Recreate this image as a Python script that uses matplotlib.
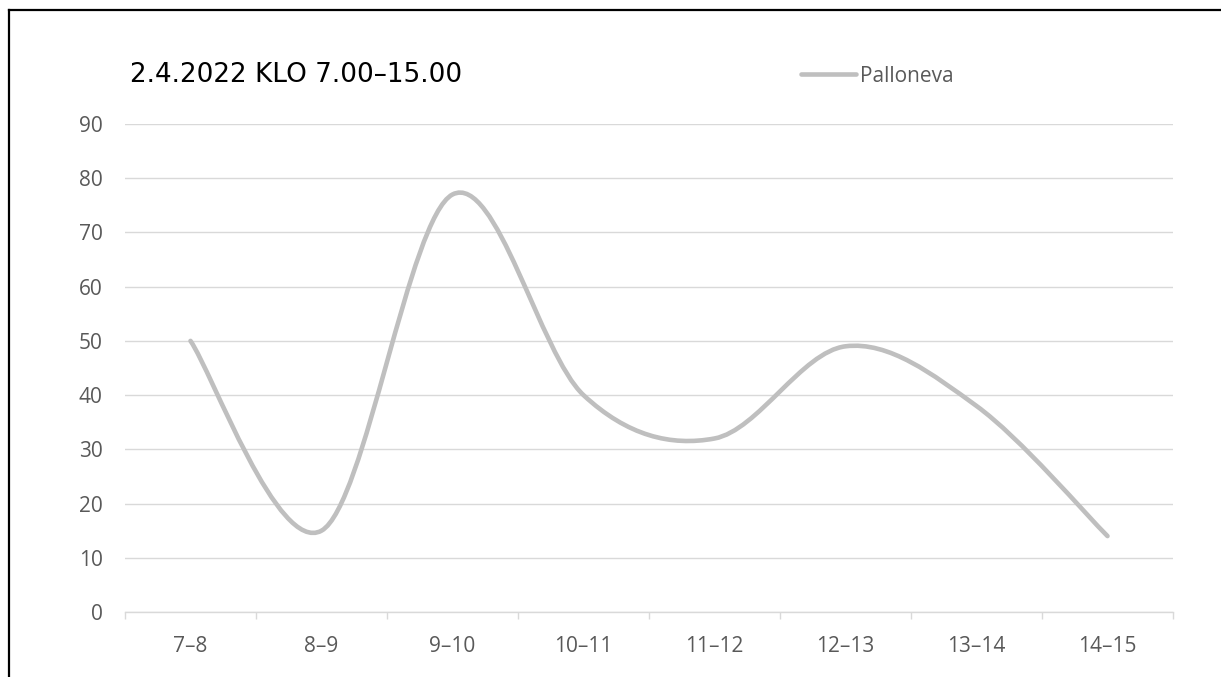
import matplotlib
matplotlib.use("Agg")
import matplotlib.pyplot as plt
from matplotlib.path import Path
from matplotlib.patches import PathPatch
from matplotlib.lines import Line2D
import numpy as np

categories = ["7–8", "8–9", "9–10", "10–11", "11–12", "12–13", "13–14", "14–15"]
values = [50, 15, 77, 40, 32, 49, 38, 14]
yticks = [0, 10, 20, 30, 40, 50, 60, 70, 80, 90]
title = "2.4.2022 KLO 7.00–15.00"
series_name = "Palloneva"

W, H = 1221, 677
fig = plt.figure(figsize=(W / 100, H / 100), dpi=100)
fig.patch.set_facecolor("white")

ax = fig.add_axes([125 / W, 1 - 612 / H, (1173 - 125) / W, (612 - 124) / H])
ax.set_xlim(-0.5, len(categories) - 0.5)
ax.set_ylim(0, 90)

txt = "#595959"
grid = "#D9D9D9"
linec = "#BFBFBF"
fs = 15

for s in ax.spines.values():
    s.set_visible(False)
ax.spines["bottom"].set_visible(True)
ax.spines["bottom"].set_color(grid)
ax.spines["bottom"].set_linewidth(1.0)

ax.set_yticks(yticks)
ax.set_yticklabels([str(v) for v in yticks])
ax.yaxis.grid(True, color=grid, linewidth=1.0)
ax.set_axisbelow(True)
ax.tick_params(axis="y", length=0, pad=16, labelsize=fs, labelcolor=txt)

x = np.arange(len(categories))
ax.set_xticks(x)
ax.set_xticklabels(categories)
ax.tick_params(axis="x", which="major", length=0, pad=17, labelsize=fs, labelcolor=txt)
ax.set_xticks(np.arange(len(categories) + 1) - 0.5, minor=True)
ax.tick_params(axis="x", which="minor", length=5, width=1.0, color=grid, direction="out")

for lbl in ax.get_xticklabels() + ax.get_yticklabels():
    lbl.set_fontfamily("Open Sans")

# Smoothed line (Catmull-Rom as cubic Bezier), built from data values
pts = np.column_stack([x, values]).astype(float)
n = len(pts)
verts = [tuple(pts[0])]
codes = [Path.MOVETO]
for i in range(n - 1):
    p0 = pts[i - 1] if i > 0 else pts[i]
    p1 = pts[i]
    p2 = pts[i + 1]
    p3 = pts[i + 2] if i + 2 < n else pts[i + 1]
    c1 = p1 + (p2 - p0) / 6.0
    c2 = p2 - (p3 - p1) / 6.0
    verts += [tuple(c1), tuple(c2), tuple(p2)]
    codes += [Path.CURVE4] * 3
patch = PathPatch(Path(verts, codes), facecolor="none", edgecolor=linec,
                  linewidth=3.3, capstyle="round", joinstyle="round", zorder=3)
ax.add_patch(patch)

# legend
handle = Line2D([], [], color=linec, linewidth=3.3, solid_capstyle="round")
leg = fig.legend([handle], [series_name], loc="center left",
                 bbox_to_anchor=(801 / W, 1 - 76 / H), frameon=False,
                 handlelength=2.65, handletextpad=0.2, borderaxespad=0,
                 borderpad=0, prop={"family": "Open Sans", "size": fs})
for t in leg.get_texts():
    t.set_color(txt)

# title
fig.text(130 / W, 1 - 82 / H, title, fontsize=18.9, color="black",
         family="DejaVu Sans", ha="left", va="baseline")

# outer border (left and top edges)
fig.add_artist(Line2D([8.5 / W, 8.5 / W], [0, 1 - 10 / H], color="black",
                      linewidth=1.6, transform=fig.transFigure))
fig.add_artist(Line2D([8.5 / W, 1], [1 - 10 / H, 1 - 10 / H], color="black",
                      linewidth=1.6, transform=fig.transFigure))

fig.savefig("out.png", dpi=100)
